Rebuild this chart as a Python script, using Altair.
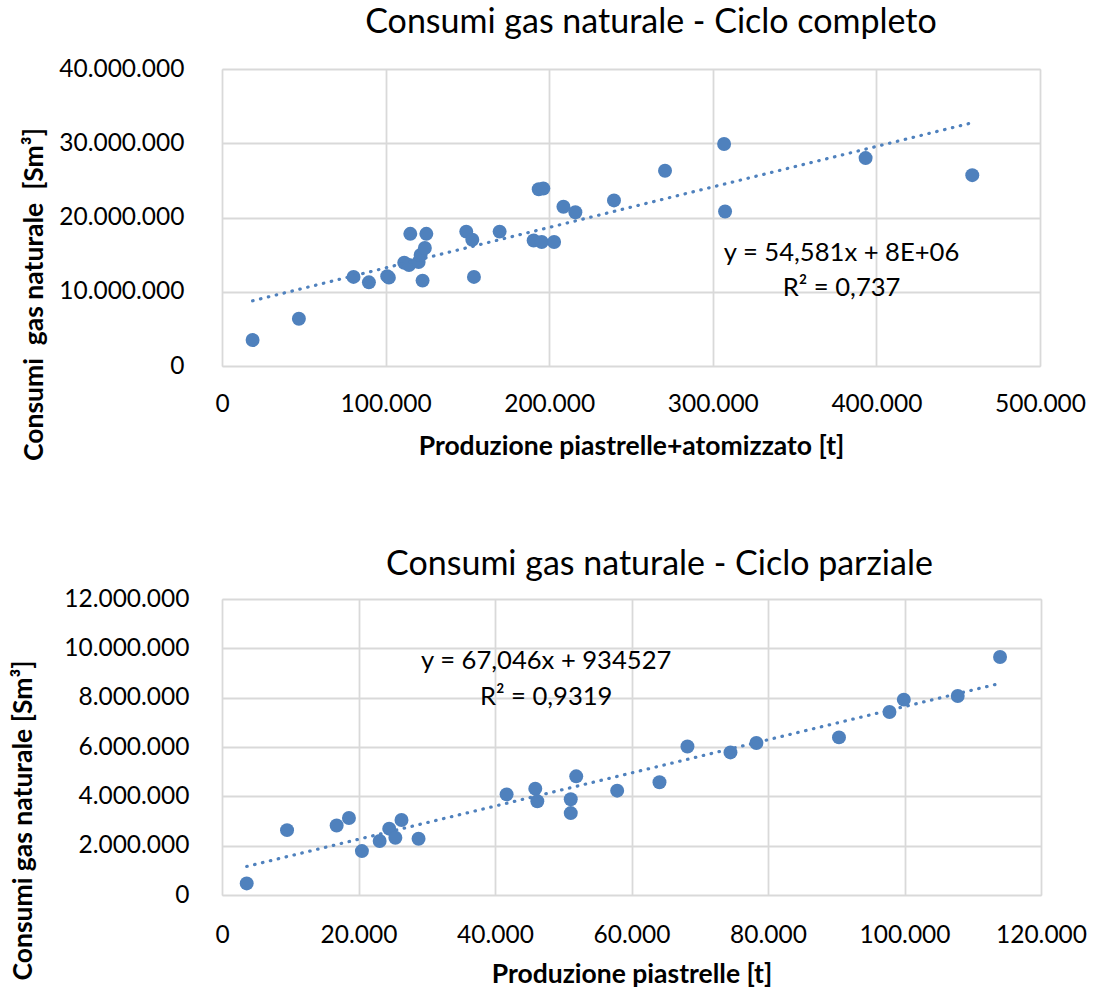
import altair as alt
import pandas as pd

# ---------------- data ----------------
# Top chart: Ciclo completo
top_prod = [18700, 47000, 80400, 89800, 101000, 102000, 111400, 114300, 115100,
            120200, 121400, 124000, 124900, 122600, 149300, 153000, 154000,
            169700, 190500, 195400, 203000, 193600, 196400, 208700, 216000,
            239600, 270800, 306900, 307500, 393400, 458600]
top_gas = [3500000, 6370000, 12000000, 11270000, 12100000, 11900000, 13900000,
           13600000, 17800000, 14000000, 14950000, 15900000, 17800000, 11500000,
           18100000, 17000000, 12000000, 18100000, 16900000, 16700000, 16700000,
           23800000, 23900000, 21450000, 20700000, 22300000, 26300000, 29900000,
           20800000, 28000000, 25700000]

# Bottom chart: Ciclo parziale
bot_prod = [3620, 9530, 16800, 18600, 20500, 23100, 24500, 25400, 26300, 28800,
            41700, 45900, 46200, 51100, 51100, 51900, 57900, 64100, 68200, 74500,
            78300, 90400, 97800, 99900, 107800, 114000]
bot_gas = [470000, 2630000, 2820000, 3120000, 1780000, 2190000, 2690000, 2320000,
           3040000, 2280000, 4080000, 4310000, 3800000, 3880000, 3320000, 4810000,
           4230000, 4570000, 6020000, 5780000, 6160000, 6390000, 7420000, 7920000,
           8070000, 9650000]

top_x_ticks = [0, 100000, 200000, 300000, 400000, 500000]
top_y_ticks = [0, 10000000, 20000000, 30000000, 40000000]
bot_x_ticks = [0, 20000, 40000, 60000, 80000, 100000, 120000]
bot_y_ticks = [0, 2000000, 4000000, 6000000, 8000000, 10000000, 12000000]

top_eq_text = ["y = 54,581x + 8E+06", "R² = 0,737"]
bot_eq_text = ["y = 67,046x + 934527", "R² = 0,9319"]

top_title = "Consumi gas naturale - Ciclo completo"
bot_title = "Consumi gas naturale - Ciclo parziale"
top_xtitle = "Produzione piastrelle+atomizzato [t]"
bot_xtitle = "Produzione piastrelle [t]"
top_ytitle = "Consumi\u00a0 gas naturale\u00a0 [Sm³]"
bot_ytitle = "Consumi gas naturale [Sm³]"

# annotation anchor points (data coordinates)
top_eq_x = [378700, 378700]
top_eq_y = [14140000, 9430000]
bot_eq_x = [47500, 47500]
bot_eq_y = [9160000, 7700000]

# ---------------- styling ----------------
BLUE = "#4F81BD"
GRID = "#D9D9D9"
FONT = "Lato"
FMT = "replace(format(datum.value, ','), /,/g, '.')"


def panel(prod, gas, xticks, yticks, xtitle, ytitle, title, eq_text, eq_x, eq_y,
          ylabpad, ytitlepad, ytitleY, xlabpad, xtitlepad, title_dx, title_off, w, h):
    df = pd.DataFrame({"prod": prod, "gas": gas})
    ann = pd.DataFrame({"prod": eq_x, "gas": eq_y, "t": eq_text})

    xscale = alt.Scale(domain=[xticks[0], xticks[-1]], nice=False, zero=True)
    yscale = alt.Scale(domain=[yticks[0], yticks[-1]], nice=False, zero=True)

    common = dict(grid=True, gridColor=GRID, gridWidth=1.8, domain=False, ticks=False,
                  labelFont=FONT, labelFontSize=24.5, labelColor="black",
                  titleFont=FONT, titleFontSize=26.5, titleFontWeight="bold",
                  titleColor="black", labelExpr=FMT)

    x = alt.X("prod:Q", scale=xscale,
              axis=alt.Axis(values=xticks, title=xtitle, labelPadding=xlabpad,
                            titlePadding=xtitlepad, labelFlush=False, **common))
    y = alt.Y("gas:Q", scale=yscale,
              axis=alt.Axis(values=yticks, title=ytitle, labelPadding=ylabpad,
                            titlePadding=ytitlepad, titleY=ytitleY, **common))

    points = alt.Chart(df).mark_circle(size=195, color=BLUE, opacity=1).encode(x=x, y=y)

    trend = (
        alt.Chart(df)
        .transform_regression("prod", "gas")
        .mark_line(color=BLUE, strokeWidth=3.2, strokeDash=[0.5, 7.6], strokeCap="round")
        .encode(x=alt.X("prod:Q", scale=xscale), y=alt.Y("gas:Q", scale=yscale))
    )

    text = (
        alt.Chart(ann)
        .mark_text(font=FONT, fontSize=25.6, color="black", align="center",
                   baseline="alphabetic")
        .encode(x=alt.X("prod:Q", scale=xscale), y=alt.Y("gas:Q", scale=yscale),
                text="t:N")
    )

    return alt.layer(points, trend, text).properties(
        width=w, height=h,
        title=alt.TitleParams(title, font=FONT, fontSize=34, fontWeight="normal",
                              color="black", anchor="middle", dx=title_dx,
                              offset=title_off, baseline="alphabetic"),
    )


top = panel(top_prod, top_gas, top_x_ticks, top_y_ticks, top_xtitle, top_ytitle,
            top_title, top_eq_text, top_eq_x, top_eq_y,
            ylabpad=38, ytitlepad=10, ytitleY=225, xlabpad=26, xtitlepad=18,
            title_dx=20, title_off=-11, w=818, h=297)
bot = panel(bot_prod, bot_gas, bot_x_ticks, bot_y_ticks, bot_xtitle, bot_ytitle,
            bot_title, bot_eq_text, bot_eq_x, bot_eq_y,
            ylabpad=33, ytitlepad=26, ytitleY=221, xlabpad=28, xtitlepad=15,
            title_dx=28, title_off=-23, w=819, h=296)

chart = alt.vconcat(top, bot, spacing=86).properties(
    padding={"left": 10, "top": 5, "right": 5, "bottom": 2}
).configure_view(stroke=None).configure(background="white")

chart.save("out.html", embed_options={"renderer": "svg", "actions": False})
